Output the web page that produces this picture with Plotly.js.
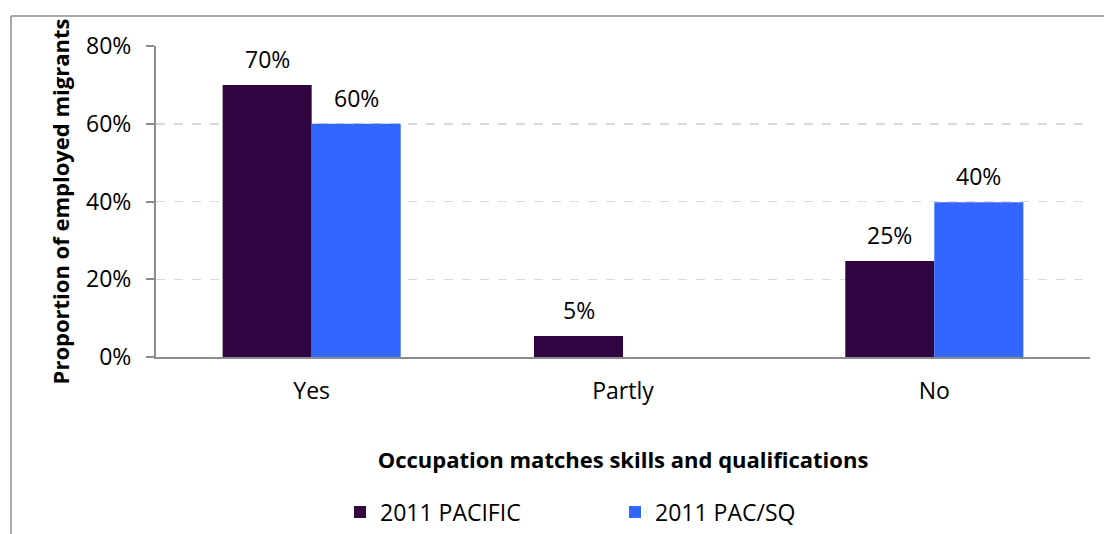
<!DOCTYPE html>
<html>
<head>
<meta charset="utf-8">
<script src="https://cdn.plot.ly/plotly-3.0.1.min.js"></script>
<style>
  html, body { margin: 0; padding: 0; background: #ffffff; }
  #chart { width: 1104px; height: 534px; }
</style>
</head>
<body>
<div id="chart"></div>
<script>
// ---- data ----
const categories = ["Yes", "Partly", "No"];
const seriesNames = ["2011 PACIFIC", "2011 PAC/SQ"];
const pacificValues = [0.70, 0.054, 0.247];
const pacsqValues = [0.60, 0, 0.398];
const yTickValues = [0, 0.2, 0.4, 0.6, 0.8];
const yTickLabels = ["0%", "20%", "40%", "60%", "80%"];
const xAxisTitle = "Occupation matches skills and qualifications";
const yAxisTitle = "Proportion of employed migrants";

// ---- style ----
const FONT = "'Open Sans', 'Noto Sans', sans-serif";
const FS = 23;
const FSB = 22;
const colors = ["#300642", "#3366ff"];

const traces = [
  { type: "bar", name: seriesNames[0], x: categories, y: pacificValues,
    marker: { color: colors[0] }, hoverinfo: "none" },
  { type: "bar", name: seriesNames[1], x: categories, y: pacsqValues,
    marker: { color: colors[1] }, hoverinfo: "none" }
];

// data labels through axis scales
const barShift = 44.5;
const annotations = [];
[pacificValues, pacsqValues].forEach((vals, si) => {
  vals.forEach((v, i) => {
    if (v <= 0) return;
    annotations.push({
      x: categories[i], y: v, xref: "x", yref: "y",
      xshift: si === 0 ? -barShift : barShift,
      yshift: 8, yanchor: "bottom", xanchor: "center",
      text: Math.round(v * 100) + "%", showarrow: false,
      font: { family: FONT, size: FS, color: "#000000" }
    });
  });
});

// chart frame (gray border)
const L = 156, R = 1090, T = 46, B = 357;
const W = R - L, H = B - T;
const px = v => (v - L) / W;
const py = v => (B - v) / H;
const shapes = [
  { type: "line", xref: "paper", yref: "paper", x0: px(11), x1: px(11), y0: py(16), y1: py(540),
    line: { color: "#8c8c8c", width: 1.5 } },
  { type: "line", xref: "paper", yref: "paper", x0: px(11), x1: px(1110), y0: py(16), y1: py(16),
    line: { color: "#8c8c8c", width: 1.5 } }
];

const layout = {
  width: 1104, height: 534,
  margin: { l: L, r: 1104 - R, t: T, b: 534 - B, autoexpand: false },
  paper_bgcolor: "#ffffff", plot_bgcolor: "#ffffff",
  font: { family: FONT, size: FS, color: "#000000" },
  barmode: "group", bargap: 0.428, bargroupgap: 0,
  showlegend: true,
  legend: {
    orientation: "h", x: px(340), xanchor: "left", y: py(512), yanchor: "middle",
    entrywidth: 230, entrywidthmode: "pixels", itemwidth: 30,
    font: { family: FONT, size: FS, color: "#000000" },
    bgcolor: "rgba(0,0,0,0)"
  },
  xaxis: {
    type: "category", showgrid: false, showline: true, linecolor: "#8c8c8c", linewidth: 2,
    ticks: "", ticklabelstandoff: 12, tickfont: { family: FONT, size: FS },
    title: { text: "<b>" + xAxisTitle + "</b>", standoff: 48, font: { family: FONT, size: FSB } },
    fixedrange: true, zeroline: false
  },
  yaxis: {
    range: [0, 0.8], tickvals: yTickValues, ticktext: yTickLabels,
    showgrid: true, gridcolor: "#d9d9d9", griddash: "dash", gridwidth: 1.5,
    showline: true, linecolor: "#8c8c8c", linewidth: 2,
    ticks: "outside", ticklen: 8, tickcolor: "#8c8c8c", tickwidth: 2,
    ticklabelstandoff: 10,
    tickfont: { family: FONT, size: FS },
    title: { text: "<b>" + yAxisTitle + "</b>", standoff: 10, font: { family: FONT, size: FSB } },
    zeroline: false, fixedrange: true
  },
  annotations: annotations,
  shapes: shapes
};

Plotly.newPlot("chart", traces, layout, { staticPlot: true, displayModeBar: false });
</script>
</body>
</html>
